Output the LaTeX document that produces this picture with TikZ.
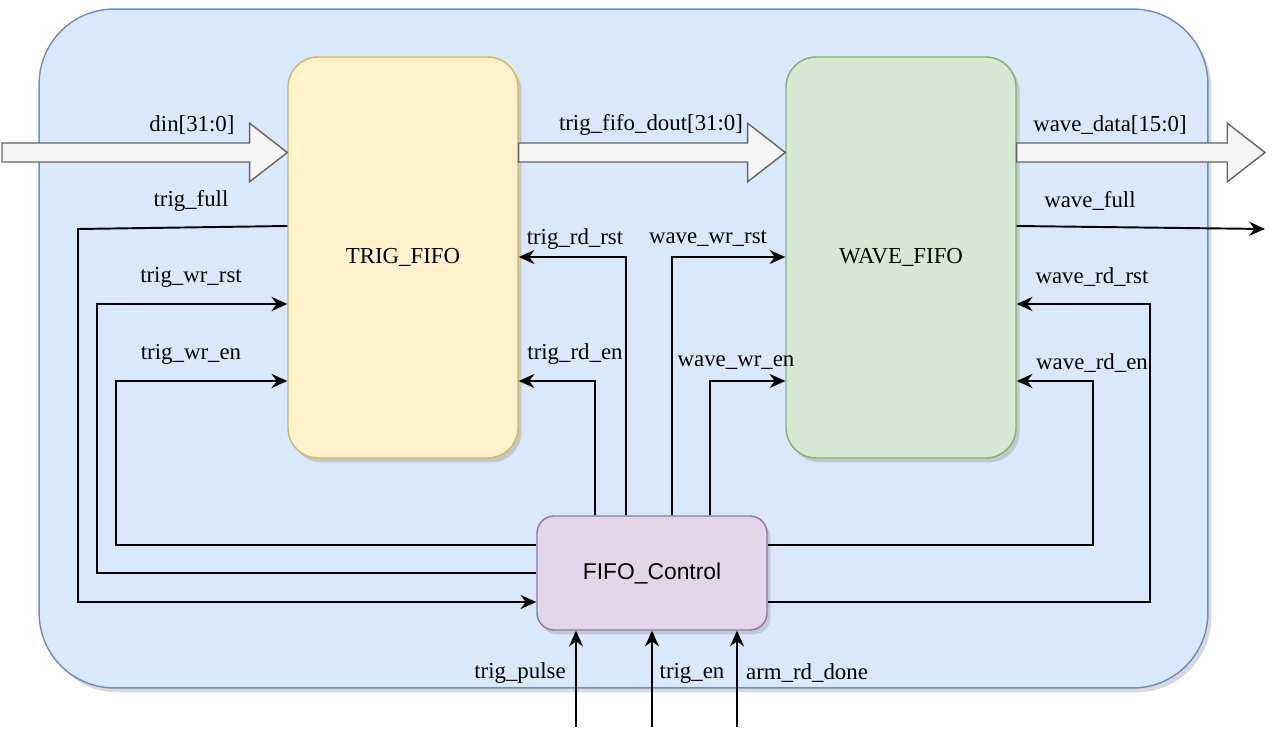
\documentclass[tikz,border=0pt]{standalone}
\usepackage{fontspec}
\setmainfont{Liberation Serif}
\newfontfamily\ctrlfont{Liberation Sans}
\usetikzlibrary{arrows.meta,shadows,calc}
\definecolor{boardfill}{HTML}{DAE8FC}
\definecolor{boardline}{HTML}{6C8EBF}
\definecolor{trigfill}{HTML}{FFF2CC}
\definecolor{trigline}{HTML}{D6B656}
\definecolor{wavefill}{HTML}{D5E8D4}
\definecolor{waveline}{HTML}{82B366}
\definecolor{ctrlfill}{HTML}{E1D5E7}
\definecolor{ctrlline}{HTML}{9673A6}
\definecolor{busfill}{HTML}{F5F5F5}
\definecolor{busline}{HTML}{666666}
% wide bus arrow from #1 to the tip #2
\newcommand{\busarrow}[2]{\draw[bus] let \p1=#1, \p2=#2 in
  (\x1,\y1+5.4pt)--(\x2-21.5pt,\y1+5.4pt)--(\x2-21.5pt,\y1+16.7pt)--(\x2,\y2)
  --(\x2-21.5pt,\y1-16.7pt)--(\x2-21.5pt,\y1-5.4pt)--(\x1,\y1-5.4pt)--cycle;}
\begin{document}
\begin{tikzpicture}[x=0.02cm,y=-0.02cm,font=\fontsize{13}{15}\selectfont,
  blk/.style={draw,line width=0.8pt,inner sep=0pt,drop shadow={shadow xshift=2pt,shadow yshift=-2.5pt,opacity=0.3}},
  fifo/.style={blk,rounded corners=0.6cm,minimum width=4.6cm,minimum height=8.02cm},
  sig/.style={line width=1.1pt,-{Stealth[length=9pt,width=8pt,inset=3pt]}},
  bus/.style={draw=busline,fill=busfill,line width=0.8pt,line join=miter},
  lbl/.style={inner sep=0pt}]
\useasboundingbox (0,0) rectangle (1282,743);
%blocks
\node[blk,fill=boardfill,draw=boardline,rounded corners=1.5cm,minimum width=23.38cm,minimum height=13.58cm] (board) at (623.5,348.5) {};
\node[fifo,fill=trigfill,draw=trigline] (trig) at (403,257.5) {TRIG\_FIFO};
\node[fifo,fill=wavefill,draw=waveline] (wave) at (901,257.5) {WAVE\_FIFO};
\node[blk,fill=ctrlfill,draw=ctrlline,rounded corners=0.34cm,minimum width=4.6cm,minimum height=2.28cm,font=\ctrlfont\fontsize{13}{15}\selectfont] (ctrl) at (652,573) {FIFO\_Control};
%buses
\coordinate (din) at (2,152.5);
\coordinate (wdata) at (1265,152.5);
\busarrow{(din)}{(trig.west |- din)}
\busarrow{(trig.east |- din)}{(wave.west |- din)}
\busarrow{(wave.east |- din)}{(wdata)}
%trig side
\coordinate (tfull) at (78,229);
\draw[sig] (trig.west |- 0,226) -- (tfull) |- (ctrl.west |- 0,602);
\draw[sig] (ctrl.west |- 0,573) -| (97,304) -- (trig.west |- 0,304);
\draw[sig] (ctrl.west |- 0,545) -| (116,381) -- (trig.west |- 0,381);
\draw[sig] (ctrl.north -| 595,0) |- (trig.east |- 0,381);
\draw[sig] (ctrl.north -| 626,0) |- (trig.east |- 0,257);
%wave side
\draw[sig] (ctrl.north -| 672,0) |- (wave.west |- 0,257);
\draw[sig] (ctrl.north -| 710,0) |- (wave.west |- 0,381);
\draw[sig] (ctrl.east |- 0,545) -| (1093,381) -- (wave.east |- 0,381);
\draw[sig] (ctrl.east |- 0,602) -| (1150,304) -- (wave.east |- 0,304);
\coordinate (wfull) at (1265,229);
\draw[sig] (wave.east |- 0,226) -- (wfull);
%inputs
\foreach \x/\n in {576/tpulse,652/ten,737/ardone}{\coordinate (\n) at (\x,727); \draw[sig] (\n) -- (ctrl.south -| \n);}
%labels
\node[lbl] (l-din) at (192,125) {din[31:0]};
\node[lbl] (l-dout) at (651,125) {trig\_fifo\_dout[31:0]};
\node[lbl] (l-wdata) at (1110,125) {wave\_data[15:0]};
\node[lbl] (l-tfull) at (191,201) {trig\_full};
\node[lbl] (l-twrrst) at (191,277) {trig\_wr\_rst};
\node[lbl] (l-twren) at (191,354) {trig\_wr\_en};
\node[lbl] (l-trdrst) at (575,239) {trig\_rd\_rst};
\node[lbl] (l-trden) at (575,354) {trig\_rd\_en};
\node[lbl] (l-wwrrst) at (708,239) {wave\_wr\_rst};
\node[lbl] (l-wwren) at (736,363) {wave\_wr\_en};
\node[lbl] (l-wfull) at (1090,201) {wave\_full};
\node[lbl] (l-wrdrst) at (1092,277) {wave\_rd\_rst};
\node[lbl] (l-wrden) at (1092,363) {wave\_rd\_en};
\node[lbl] (l-tpulse) at (520,673) {trig\_pulse};
\node[lbl] (l-ten) at (692,673) {trig\_en};
\node[lbl] (l-ardone) at (807,673) {arm\_rd\_done};
\end{tikzpicture}
\end{document}
